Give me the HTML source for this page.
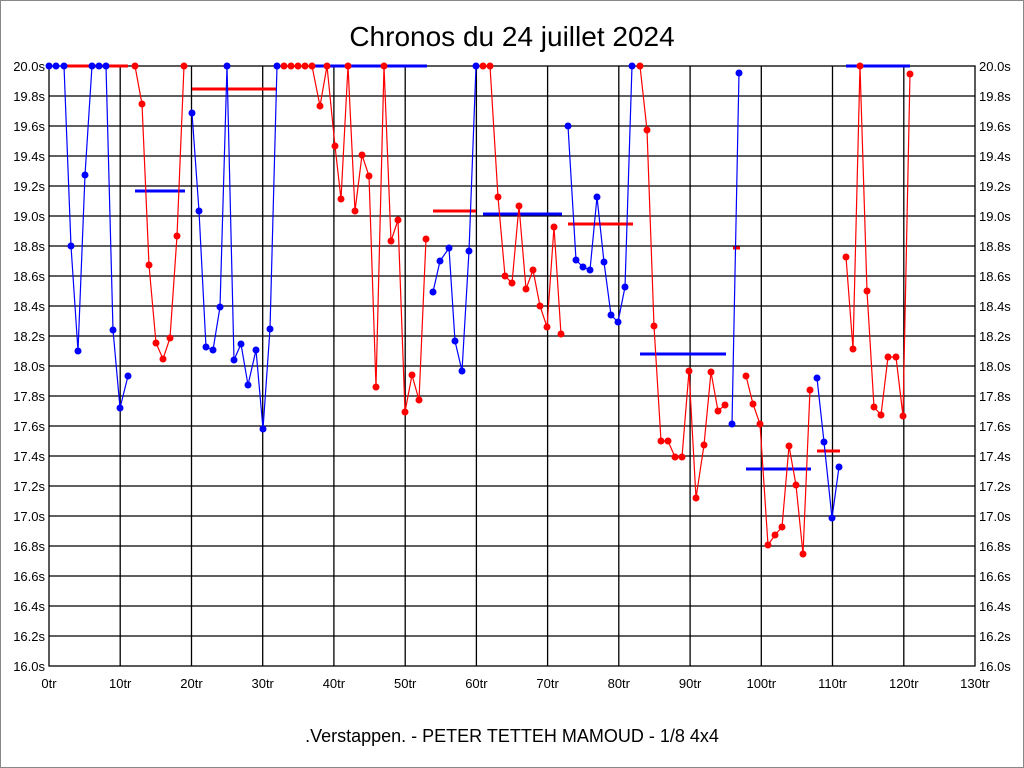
<!DOCTYPE html>
<html><head><meta charset="utf-8"><style>
html,body{margin:0;padding:0;background:#fff;}
svg{display:block;font-family:"Liberation Sans",sans-serif;}
</style></head><body>
<svg width="1024" height="768" viewBox="0 0 1024 768" xmlns="http://www.w3.org/2000/svg">
<rect x="0.5" y="0.5" width="1023" height="767" fill="#fff" stroke="#888"/>
<text x="512" y="46" font-size="28" text-anchor="middle" fill="#000">Chronos du 24 juillet 2024</text>
<g stroke="#000" stroke-width="1.3" fill="none">
<rect x="49" y="66" width="926" height="600"/>
<path d="M49 96H975M49 126H975M49 156H975M49 186H975M49 216H975M49 246H975M49 276H975M49 306H975M49 336H975M49 366H975M49 396H975M49 426H975M49 456H975M49 486H975M49 516H975M49 546H975M49 576H975M49 606H975M49 636H975"/>
<path d="M120.2 66V666M191.5 66V666M262.7 66V666M333.9 66V666M405.2 66V666M476.4 66V666M547.6 66V666M618.8 66V666M690.1 66V666M761.3 66V666M832.5 66V666M903.8 66V666"/>
</g>
<g font-size="13" fill="#000" text-anchor="end">
<text x="45" y="71">20.0s</text><text x="45" y="101">19.8s</text><text x="45" y="131">19.6s</text><text x="45" y="161">19.4s</text><text x="45" y="191">19.2s</text><text x="45" y="221">19.0s</text><text x="45" y="251">18.8s</text><text x="45" y="281">18.6s</text><text x="45" y="311">18.4s</text><text x="45" y="341">18.2s</text><text x="45" y="371">18.0s</text><text x="45" y="401">17.8s</text><text x="45" y="431">17.6s</text><text x="45" y="461">17.4s</text><text x="45" y="491">17.2s</text><text x="45" y="521">17.0s</text><text x="45" y="551">16.8s</text><text x="45" y="581">16.6s</text><text x="45" y="611">16.4s</text><text x="45" y="641">16.2s</text><text x="45" y="671">16.0s</text>
</g>
<g font-size="13" fill="#000">
<text x="979" y="71">20.0s</text><text x="979" y="101">19.8s</text><text x="979" y="131">19.6s</text><text x="979" y="161">19.4s</text><text x="979" y="191">19.2s</text><text x="979" y="221">19.0s</text><text x="979" y="251">18.8s</text><text x="979" y="281">18.6s</text><text x="979" y="311">18.4s</text><text x="979" y="341">18.2s</text><text x="979" y="371">18.0s</text><text x="979" y="401">17.8s</text><text x="979" y="431">17.6s</text><text x="979" y="461">17.4s</text><text x="979" y="491">17.2s</text><text x="979" y="521">17.0s</text><text x="979" y="551">16.8s</text><text x="979" y="581">16.6s</text><text x="979" y="611">16.4s</text><text x="979" y="641">16.2s</text><text x="979" y="671">16.0s</text>
</g>
<g font-size="13" fill="#000" text-anchor="middle">
<text x="49" y="688">0tr</text><text x="120.2" y="688">10tr</text><text x="191.5" y="688">20tr</text><text x="262.7" y="688">30tr</text><text x="333.9" y="688">40tr</text><text x="405.2" y="688">50tr</text><text x="476.4" y="688">60tr</text><text x="547.6" y="688">70tr</text><text x="618.8" y="688">80tr</text><text x="690.1" y="688">90tr</text><text x="761.3" y="688">100tr</text><text x="832.5" y="688">110tr</text><text x="903.8" y="688">120tr</text><text x="975" y="688">130tr</text>
</g>
<text x="512" y="742" font-size="18" text-anchor="middle" fill="#000">.Verstappen. - PETER TETTEH MAMOUD - 1/8 4x4</text>

<!-- mean bars -->
<g stroke-width="3">
<path stroke="#f00" d="M63 66H128M192 89H277M433 211H476M568 224H633M733 248H740M817 451H840"/>
<path stroke="#00f" d="M135 191H185M312 66H427M483 214H562M640 354H726M746 469H811M846 66H910"/>
</g>

<g fill="none" stroke-width="1.2">
<polyline stroke="#00f" points="49,66 56,66 64,66 71,246 78,351 85,175 92,66 99,66 106,66 113,330 120,408 128,376"/>
<polyline stroke="#f00" points="135,66 142,104 149,265 156,343 163,359 170,338 177,236 184,66"/>
<polyline stroke="#00f" points="192,113 199,211 206,347 213,350 220,307 227,66 234,360 241,344 248,385 256,350 263,429 270,329 277,66"/>
<polyline stroke="#f00" points="284,66 291,66 298,66 305,66 312,66 320,106 327,66 335,146 341,199 348,66 355,211 362,155 369,176 376,387 384,66 391,241 398,220 405,412 412,375 419,400 426,239"/>
<polyline stroke="#00f" points="433,292 440,261 449,248 455,341 462,371 469,251 476,66"/>
<polyline stroke="#f00" points="483,66 490,66 498,197 505,276 512,283 519,206 526,289 533,270 540,306 547,327 554,227 561,334"/>
<polyline stroke="#00f" points="568,126 576,260 583,267 590,270 597,197 604,262 611,315 618,322 625,287 632,66"/>
<polyline stroke="#f00" points="640,66 647,130 654,326 661,441 668,441 675,457 682,457 689,371 696,498 704,445 711,372 718,411 725,405"/>
<polyline stroke="#00f" points="732,424 739,73"/>
<polyline stroke="#f00" points="746,376 753,404 760,424 768,545 775,535 782,527 789,446 796,485 803,554 810,390"/>
<polyline stroke="#00f" points="817,378 824,442 832,518 839,467"/>
<polyline stroke="#f00" points="846,257 853,349 860,66 867,291 874,407 881,415 888,357 896,357 903,416 910,74"/>
</g>

<g fill="#00f">
<circle cx="49" cy="66" r="3.5"/><circle cx="56" cy="66" r="3.5"/><circle cx="64" cy="66" r="3.5"/><circle cx="71" cy="246" r="3.5"/><circle cx="78" cy="351" r="3.5"/><circle cx="85" cy="175" r="3.5"/><circle cx="92" cy="66" r="3.5"/><circle cx="99" cy="66" r="3.5"/><circle cx="106" cy="66" r="3.5"/><circle cx="113" cy="330" r="3.5"/><circle cx="120" cy="408" r="3.5"/><circle cx="128" cy="376" r="3.5"/>
<circle cx="192" cy="113" r="3.5"/><circle cx="199" cy="211" r="3.5"/><circle cx="206" cy="347" r="3.5"/><circle cx="213" cy="350" r="3.5"/><circle cx="220" cy="307" r="3.5"/><circle cx="227" cy="66" r="3.5"/><circle cx="234" cy="360" r="3.5"/><circle cx="241" cy="344" r="3.5"/><circle cx="248" cy="385" r="3.5"/><circle cx="256" cy="350" r="3.5"/><circle cx="263" cy="429" r="3.5"/><circle cx="270" cy="329" r="3.5"/><circle cx="277" cy="66" r="3.5"/>
<circle cx="433" cy="292" r="3.5"/><circle cx="440" cy="261" r="3.5"/><circle cx="449" cy="248" r="3.5"/><circle cx="455" cy="341" r="3.5"/><circle cx="462" cy="371" r="3.5"/><circle cx="469" cy="251" r="3.5"/><circle cx="476" cy="66" r="3.5"/>
<circle cx="568" cy="126" r="3.5"/><circle cx="576" cy="260" r="3.5"/><circle cx="583" cy="267" r="3.5"/><circle cx="590" cy="270" r="3.5"/><circle cx="597" cy="197" r="3.5"/><circle cx="604" cy="262" r="3.5"/><circle cx="611" cy="315" r="3.5"/><circle cx="618" cy="322" r="3.5"/><circle cx="625" cy="287" r="3.5"/><circle cx="632" cy="66" r="3.5"/>
<circle cx="732" cy="424" r="3.5"/><circle cx="739" cy="73" r="3.5"/>
<circle cx="817" cy="378" r="3.5"/><circle cx="824" cy="442" r="3.5"/><circle cx="832" cy="518" r="3.5"/><circle cx="839" cy="467" r="3.5"/>
</g>
<g fill="#f00">
<circle cx="135" cy="66" r="3.5"/><circle cx="142" cy="104" r="3.5"/><circle cx="149" cy="265" r="3.5"/><circle cx="156" cy="343" r="3.5"/><circle cx="163" cy="359" r="3.5"/><circle cx="170" cy="338" r="3.5"/><circle cx="177" cy="236" r="3.5"/><circle cx="184" cy="66" r="3.5"/>
<circle cx="284" cy="66" r="3.5"/><circle cx="291" cy="66" r="3.5"/><circle cx="298" cy="66" r="3.5"/><circle cx="305" cy="66" r="3.5"/><circle cx="312" cy="66" r="3.5"/><circle cx="320" cy="106" r="3.5"/><circle cx="327" cy="66" r="3.5"/><circle cx="335" cy="146" r="3.5"/><circle cx="341" cy="199" r="3.5"/><circle cx="348" cy="66" r="3.5"/><circle cx="355" cy="211" r="3.5"/><circle cx="362" cy="155" r="3.5"/><circle cx="369" cy="176" r="3.5"/><circle cx="376" cy="387" r="3.5"/><circle cx="384" cy="66" r="3.5"/><circle cx="391" cy="241" r="3.5"/><circle cx="398" cy="220" r="3.5"/><circle cx="405" cy="412" r="3.5"/><circle cx="412" cy="375" r="3.5"/><circle cx="419" cy="400" r="3.5"/><circle cx="426" cy="239" r="3.5"/>
<circle cx="483" cy="66" r="3.5"/><circle cx="490" cy="66" r="3.5"/><circle cx="498" cy="197" r="3.5"/><circle cx="505" cy="276" r="3.5"/><circle cx="512" cy="283" r="3.5"/><circle cx="519" cy="206" r="3.5"/><circle cx="526" cy="289" r="3.5"/><circle cx="533" cy="270" r="3.5"/><circle cx="540" cy="306" r="3.5"/><circle cx="547" cy="327" r="3.5"/><circle cx="554" cy="227" r="3.5"/><circle cx="561" cy="334" r="3.5"/>
<circle cx="640" cy="66" r="3.5"/><circle cx="647" cy="130" r="3.5"/><circle cx="654" cy="326" r="3.5"/><circle cx="661" cy="441" r="3.5"/><circle cx="668" cy="441" r="3.5"/><circle cx="675" cy="457" r="3.5"/><circle cx="682" cy="457" r="3.5"/><circle cx="689" cy="371" r="3.5"/><circle cx="696" cy="498" r="3.5"/><circle cx="704" cy="445" r="3.5"/><circle cx="711" cy="372" r="3.5"/><circle cx="718" cy="411" r="3.5"/><circle cx="725" cy="405" r="3.5"/>
<circle cx="746" cy="376" r="3.5"/><circle cx="753" cy="404" r="3.5"/><circle cx="760" cy="424" r="3.5"/><circle cx="768" cy="545" r="3.5"/><circle cx="775" cy="535" r="3.5"/><circle cx="782" cy="527" r="3.5"/><circle cx="789" cy="446" r="3.5"/><circle cx="796" cy="485" r="3.5"/><circle cx="803" cy="554" r="3.5"/><circle cx="810" cy="390" r="3.5"/>
<circle cx="846" cy="257" r="3.5"/><circle cx="853" cy="349" r="3.5"/><circle cx="860" cy="66" r="3.5"/><circle cx="867" cy="291" r="3.5"/><circle cx="874" cy="407" r="3.5"/><circle cx="881" cy="415" r="3.5"/><circle cx="888" cy="357" r="3.5"/><circle cx="896" cy="357" r="3.5"/><circle cx="903" cy="416" r="3.5"/><circle cx="910" cy="74" r="3.5"/>
</g>
</svg>
</body></html>
